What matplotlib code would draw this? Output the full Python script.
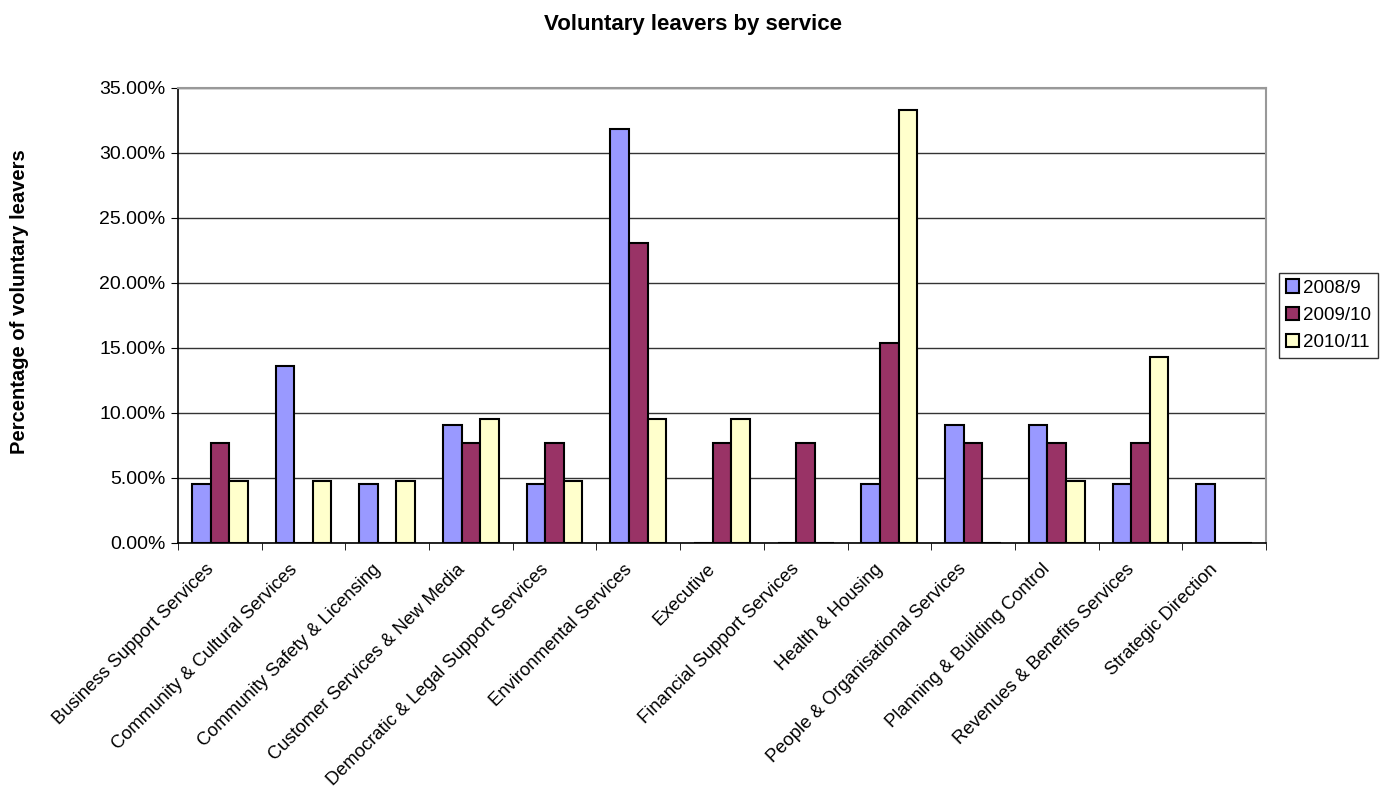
import numpy as np
import matplotlib.pyplot as plt
import matplotlib.transforms as mtransforms
from matplotlib.ticker import PercentFormatter

plt.rcParams['font.family'] = ['Liberation Sans', 'DejaVu Sans']

services = ['Business Support Services', 'Community & Cultural Services',
            'Community Safety & Licensing', 'Customer Services & New Media',
            'Democratic & Legal Support Services', 'Environmental Services',
            'Executive', 'Financial Support Services', 'Health & Housing',
            'People & Organisational Services', 'Planning & Building Control',
            'Revenues & Benefits Services', 'Strategic Direction']
y2008 = [4.55, 13.64, 4.55, 9.09, 4.55, 31.82, 0, 0, 4.55, 9.09, 9.09, 4.55, 4.55]
y2009 = [7.69, 0, 0, 7.69, 7.69, 23.08, 7.69, 7.69, 15.38, 7.69, 7.69, 7.69, 0]
y2010 = [4.76, 4.76, 4.76, 9.52, 4.76, 9.52, 9.52, 0, 33.33, 0, 4.76, 14.29, 0]
series = ['2008/9', '2009/10', '2010/11']
colors = ['#9999FF', '#993366', '#FFFFCC']

fig = plt.figure(figsize=(13.86, 7.9), dpi=100)
ax = fig.add_axes([0.1284, 0.3127, 0.785, 0.576])

x = np.arange(len(services))
w = 0.222
for i, (vals, name, c) in enumerate(zip([y2008, y2009, y2010], series, colors)):
    ax.bar(x + (i - 1) * w, vals, w, color=c, edgecolor='black', linewidth=1.5,
           label=name, zorder=3)

ax.set_xlim(-0.5, len(services) - 0.5)
ax.set_ylim(0, 35)
ax.set_yticks(np.arange(0, 36, 5))
ax.yaxis.set_major_formatter(PercentFormatter(decimals=2))
ax.grid(axis='y', color='#333333', linewidth=1, zorder=0)

ax.set_xticks(x)
ax.set_xticklabels(services, rotation=45, ha='right', rotation_mode='anchor', fontsize=13.2)
ax.set_xticks(np.arange(-0.5, len(services)), minor=True)
ax.tick_params(axis='x', which='major', length=0, pad=10)
ax.tick_params(axis='x', which='minor', length=5, color='black')
ax.tick_params(axis='y', labelsize=14, length=5, direction='out', pad=4)

# nudge category labels left/down like the original
shift = mtransforms.ScaledTranslation(-0.15, -0.04, fig.dpi_scale_trans)
for lab in ax.get_xticklabels():
    lab.set_transform(lab.get_transform() + shift)

for s in ['top', 'right']:
    ax.spines[s].set_color('#999999')
    ax.spines[s].set_linewidth(1.5)
for s in ['left', 'bottom']:
    ax.spines[s].set_color('black')
    ax.spines[s].set_linewidth(1.2)

ax.set_ylabel('Percentage of voluntary leavers', fontsize=14.5, fontweight='bold')
ax.yaxis.set_label_coords(-0.137, 0.53)
fig.suptitle('Voluntary leavers by service', fontsize=16, fontweight='bold', y=0.982)

leg = ax.legend(loc='center left', bbox_to_anchor=(1.012, 0.5), fontsize=13.5,
                frameon=True, fancybox=False, edgecolor='black', handlelength=0.7,
                handleheight=0.7, handletextpad=0.25, borderpad=0.35, labelspacing=0.55,
                borderaxespad=0)
leg.get_frame().set_linewidth(1)

fig.savefig('out.png', dpi=100)
